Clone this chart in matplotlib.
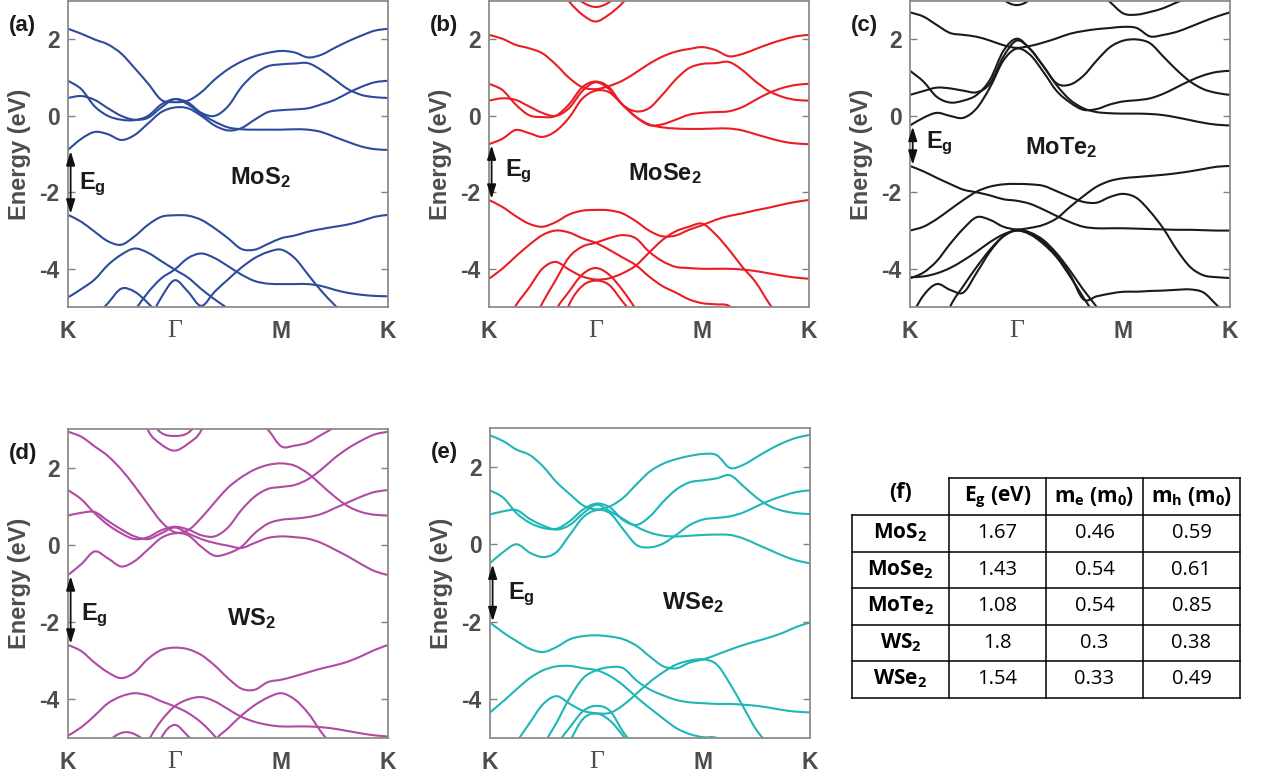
import numpy as np
import matplotlib.pyplot as plt
from matplotlib.path import Path
from matplotlib.patches import PathPatch

plt.rcParams['font.family'] = 'Liberation Sans'
plt.rcParams['axes.unicode_minus'] = False
plt.rcParams['mathtext.fontset'] = 'custom'
plt.rcParams['mathtext.rm'] = 'Liberation Sans'
plt.rcParams['mathtext.it'] = 'Liberation Sans:italic'
plt.rcParams['mathtext.bf'] = 'Liberation Sans:bold'
plt.rcParams['mathtext.sf'] = 'Open Sans:bold'

# k-path K -> Gamma -> M -> K, 8 samples per segment (energies in eV)
k_path = np.arange(25) * 0.125
k_ticks = [0, 1, 2, 3]
k_labels = ['K', 'Γ', 'M', 'K']

mos2_cb = [
    [2.28, 2.15, 2.00, 1.87, 1.63, 1.25, 0.85, 0.42, 0.36, 0.40, 0.62, 0.95, 1.22, 1.42, 1.56, 1.65, 1.70, 1.66, 1.53, 1.60, 1.78, 1.95, 2.10, 2.23, 2.28],
    [0.92, 0.70, 0.25, 0.00, -0.10, -0.11, 0.00, 0.30, 0.44, 0.35, 0.08, 0.00, 0.25, 0.75, 1.10, 1.30, 1.35, 1.37, 1.38, 1.20, 0.95, 0.70, 0.55, 0.49, 0.47],
    [0.47, 0.52, 0.42, 0.20, 0.00, -0.10, -0.05, 0.22, 0.44, 0.30, 0.05, -0.15, -0.30, -0.35, -0.36, -0.36, -0.36, -0.35, -0.36, -0.42, -0.55, -0.68, -0.80, -0.87, -0.89],
    [-0.89, -0.60, -0.42, -0.48, -0.63, -0.50, -0.20, 0.10, 0.22, 0.20, 0.00, -0.25, -0.38, -0.32, -0.10, 0.10, 0.15, 0.17, 0.20, 0.30, 0.42, 0.60, 0.76, 0.88, 0.92],
]
mos2_vb = [
    [-2.59, -2.77, -3.03, -3.28, -3.37, -3.15, -2.85, -2.64, -2.60, -2.61, -2.72, -2.94, -3.20, -3.48, -3.50, -3.35, -3.20, -3.13, -3.03, -2.96, -2.90, -2.84, -2.75, -2.64, -2.59],
    [-4.75, -4.53, -4.28, -3.90, -3.63, -3.47, -3.58, -3.80, -4.02, -4.23, -4.53, -4.80, -5.05, -5.40, -5.70, -6.00, -6.00, -6.00, -6.00, -6.00, -6.00, -6.00, -6.00, -6.00, -6.00],
    [-6.00, -6.00, -6.00, -6.00, -5.60, -5.10, -4.62, -4.25, -4.02, -3.72, -3.60, -3.72, -3.93, -4.15, -4.32, -4.39, -4.40, -4.40, -4.40, -4.45, -4.55, -4.63, -4.68, -4.71, -4.72],
    [-6.00, -6.00, -6.00, -6.00, -6.00, -6.00, -5.40, -4.75, -4.30, -4.60, -4.97, -4.60, -4.28, -3.97, -3.72, -3.56, -3.50, -3.72, -4.15, -4.58, -4.95, -5.30, -5.60, -6.00, -6.00],
    [-6.00, -6.00, -5.30, -4.90, -4.52, -4.60, -4.90, -5.30, -6.00, -6.00, -6.00, -6.00, -6.00, -6.00, -6.00, -6.00, -6.00, -6.00, -6.00, -6.00, -6.00, -6.00, -6.00, -6.00, -6.00],
]

mose2_cb = [
    [4.00, 4.00, 4.00, 4.00, 4.00, 3.50, 3.00, 2.65, 2.47, 2.65, 2.95, 3.40, 4.00, 4.00, 4.00, 4.00, 4.00, 4.00, 4.00, 4.00, 4.00, 4.00, 4.00, 4.00, 4.00],
    [4.00, 4.00, 4.00, 4.00, 4.00, 4.00, 3.30, 2.98, 2.85, 2.97, 3.30, 4.00, 4.00, 4.00, 4.00, 4.00, 4.00, 4.00, 4.00, 4.00, 4.00, 4.00, 4.00, 4.00, 4.00],
    [2.12, 2.02, 1.86, 1.77, 1.64, 1.35, 1.00, 0.75, 0.70, 0.78, 0.92, 1.13, 1.36, 1.55, 1.68, 1.75, 1.80, 1.72, 1.56, 1.62, 1.75, 1.88, 1.99, 2.08, 2.12],
    [0.84, 0.68, 0.30, 0.02, -0.03, 0.00, 0.30, 0.75, 0.90, 0.75, 0.30, 0.12, 0.20, 0.55, 0.95, 1.25, 1.36, 1.38, 1.41, 1.20, 0.90, 0.65, 0.50, 0.42, 0.40],
    [0.40, 0.46, 0.42, 0.25, 0.08, 0.00, 0.20, 0.65, 0.88, 0.70, 0.30, -0.02, -0.22, -0.30, -0.33, -0.34, -0.34, -0.33, -0.33, -0.38, -0.48, -0.58, -0.67, -0.72, -0.74],
    [-0.74, -0.60, -0.37, -0.45, -0.55, -0.40, -0.05, 0.45, 0.66, 0.62, 0.30, -0.02, -0.24, -0.22, -0.10, 0.03, 0.08, 0.10, 0.12, 0.23, 0.42, 0.60, 0.73, 0.81, 0.84],
]
mose2_vb = [
    [-2.20, -2.38, -2.62, -2.82, -2.90, -2.78, -2.58, -2.48, -2.46, -2.47, -2.55, -2.75, -3.00, -3.15, -3.13, -2.98, -2.86, -2.72, -2.62, -2.55, -2.47, -2.40, -2.32, -2.25, -2.20],
    [-4.26, -4.00, -3.68, -3.38, -3.12, -3.00, -3.05, -3.20, -3.32, -3.50, -3.70, -3.90, -4.20, -4.45, -4.62, -4.80, -4.90, -4.93, -4.97, -5.30, -5.60, -6.00, -6.00, -6.00, -6.00],
    [-6.00, -6.00, -6.00, -5.60, -4.90, -4.30, -3.70, -3.42, -3.32, -3.20, -3.12, -3.20, -3.55, -3.80, -3.95, -3.98, -4.00, -4.00, -4.00, -4.02, -4.06, -4.12, -4.18, -4.23, -4.26],
    [-6.00, -5.60, -4.97, -4.50, -4.00, -3.82, -4.02, -4.20, -4.28, -4.25, -4.12, -3.92, -3.58, -3.25, -3.02, -2.90, -2.82, -3.10, -3.50, -3.95, -4.35, -4.90, -5.40, -6.00, -6.00],
    [-6.00, -6.00, -6.00, -6.00, -6.00, -5.10, -4.60, -4.15, -3.98, -4.15, -4.55, -5.05, -5.60, -6.00, -6.00, -6.00, -6.00, -6.00, -6.00, -6.00, -6.00, -6.00, -6.00, -6.00, -6.00],
    [-6.00, -6.00, -6.00, -6.00, -6.00, -6.00, -4.95, -4.45, -4.31, -4.42, -4.85, -5.30, -6.00, -6.00, -6.00, -6.00, -6.00, -6.00, -6.00, -6.00, -6.00, -6.00, -6.00, -6.00, -6.00],
]

mote2_cb = [
    [4.00, 4.00, 4.00, 4.00, 4.00, 4.00, 3.50, 3.05, 2.90, 3.05, 3.50, 4.00, 4.00, 4.00, 4.00, 4.00, 4.00, 4.00, 4.00, 4.00, 4.00, 4.00, 4.00, 4.00, 4.00],
    [4.00, 4.00, 4.00, 4.00, 4.00, 4.00, 4.00, 4.00, 4.00, 4.00, 4.00, 4.00, 4.00, 4.00, 3.30, 2.98, 2.68, 2.65, 2.72, 2.82, 2.97, 3.10, 3.30, 4.00, 4.00],
    [2.71, 2.60, 2.38, 2.17, 2.12, 2.07, 1.97, 1.85, 1.78, 1.83, 1.92, 2.03, 2.15, 2.22, 2.27, 2.30, 2.33, 2.30, 2.08, 2.12, 2.20, 2.33, 2.47, 2.60, 2.71],
    [1.18, 0.90, 0.50, 0.35, 0.40, 0.55, 0.95, 1.70, 2.02, 1.75, 1.30, 0.85, 0.82, 1.05, 1.45, 1.80, 1.97, 2.00, 1.90, 1.55, 1.20, 0.90, 0.70, 0.60, 0.55],
    [0.55, 0.65, 0.74, 0.72, 0.66, 0.62, 0.85, 1.55, 1.97, 1.75, 1.30, 0.80, 0.42, 0.20, 0.10, 0.07, 0.06, 0.06, 0.05, 0.02, -0.04, -0.11, -0.18, -0.23, -0.25],
    [-0.25, -0.05, 0.08, 0.00, -0.05, 0.20, 0.75, 1.45, 1.76, 1.60, 1.15, 0.65, 0.35, 0.16, 0.18, 0.30, 0.38, 0.41, 0.46, 0.58, 0.75, 0.92, 1.06, 1.15, 1.18],
]
mote2_vb = [
    [-1.31, -1.45, -1.62, -1.78, -1.93, -2.00, -2.08, -2.18, -2.22, -2.30, -2.45, -2.62, -2.78, -2.90, -2.94, -2.94, -2.94, -2.95, -2.96, -2.97, -2.98, -2.98, -2.99, -3.00, -3.00],
    [-3.00, -2.90, -2.70, -2.45, -2.20, -1.98, -1.85, -1.79, -1.78, -1.79, -1.83, -1.97, -2.12, -2.25, -2.27, -2.12, -2.04, -2.15, -2.50, -2.95, -3.50, -3.95, -4.17, -4.22, -4.24],
    [-4.22, -4.20, -4.12, -3.98, -3.78, -3.55, -3.30, -3.10, -3.00, -3.08, -3.30, -3.65, -4.15, -4.80, -4.72, -4.65, -4.60, -4.60, -4.58, -4.57, -4.55, -4.54, -4.62, -4.95, -5.30],
    [-5.30, -4.70, -4.40, -4.55, -4.62, -4.10, -3.55, -3.15, -2.98, -3.05, -3.25, -3.60, -4.05, -4.55, -5.00, -5.50, -6.00, -6.00, -6.00, -6.00, -6.00, -6.00, -6.00, -6.00, -6.00],
    [-4.25, -4.10, -3.80, -3.35, -2.95, -2.65, -2.72, -2.90, -2.97, -2.93, -2.85, -2.68, -2.38, -2.10, -1.85, -1.70, -1.63, -1.60, -1.57, -1.54, -1.50, -1.45, -1.39, -1.33, -1.31],
    [-6.00, -6.00, -6.00, -5.00, -4.45, -3.95, -3.50, -3.15, -3.00, -3.10, -3.35, -3.70, -4.20, -4.75, -5.30, -6.00, -6.00, -6.00, -6.00, -6.00, -6.00, -6.00, -6.00, -6.00, -6.00],
]

ws2_cb = [
    [4.00, 4.00, 4.00, 4.00, 4.00, 4.00, 2.97, 2.60, 2.44, 2.62, 2.97, 4.00, 4.00, 4.00, 4.00, 4.00, 4.00, 4.00, 4.00, 4.00, 4.00, 4.00, 4.00, 4.00, 4.00],
    [4.00, 4.00, 4.00, 4.00, 4.00, 4.00, 3.30, 2.90, 2.82, 2.90, 3.30, 4.00, 4.00, 4.00, 4.00, 4.00, 4.00, 4.00, 4.00, 4.00, 4.00, 4.00, 4.00, 4.00, 4.00],
    [4.00, 4.00, 4.00, 4.00, 4.00, 4.00, 4.00, 4.00, 4.00, 4.00, 4.00, 4.00, 4.00, 4.00, 3.30, 2.98, 2.55, 2.57, 2.65, 2.85, 3.05, 3.30, 4.00, 4.00, 4.00],
    [2.93, 2.80, 2.55, 2.30, 1.95, 1.52, 1.05, 0.60, 0.33, 0.38, 0.70, 1.10, 1.48, 1.75, 1.95, 2.07, 2.11, 2.05, 1.85, 1.55, 1.25, 1.00, 0.85, 0.78, 0.76],
    [1.42, 1.18, 0.82, 0.52, 0.30, 0.15, 0.20, 0.38, 0.47, 0.40, 0.25, 0.22, 0.45, 0.90, 1.25, 1.45, 1.50, 1.55, 1.70, 1.95, 2.25, 2.50, 2.70, 2.86, 2.93],
    [0.76, 0.83, 0.85, 0.62, 0.40, 0.22, 0.15, 0.30, 0.45, 0.30, 0.15, 0.05, -0.02, -0.08, 0.05, 0.18, 0.22, 0.20, 0.16, 0.05, -0.12, -0.30, -0.50, -0.68, -0.78],
    [-0.78, -0.50, -0.17, -0.35, -0.56, -0.42, -0.12, 0.18, 0.30, 0.25, -0.05, -0.28, -0.22, -0.05, 0.30, 0.55, 0.65, 0.68, 0.72, 0.80, 0.95, 1.10, 1.25, 1.37, 1.42],
]
ws2_vb = [
    [-2.59, -2.75, -3.05, -3.30, -3.45, -3.30, -2.95, -2.72, -2.66, -2.70, -2.85, -3.12, -3.45, -3.72, -3.75, -3.55, -3.49, -3.40, -3.30, -3.20, -3.12, -3.02, -2.88, -2.72, -2.59],
    [-4.94, -4.72, -4.42, -4.10, -3.92, -3.84, -3.90, -4.05, -4.18, -4.35, -4.60, -4.95, -5.40, -6.00, -6.00, -6.00, -6.00, -6.00, -6.00, -6.00, -6.00, -6.00, -6.00, -6.00, -6.00],
    [-6.00, -6.00, -6.00, -6.00, -6.00, -6.00, -5.10, -4.55, -4.18, -4.00, -3.94, -4.05, -4.25, -4.45, -4.58, -4.66, -4.70, -4.70, -4.70, -4.72, -4.76, -4.82, -4.88, -4.93, -4.96],
    [-6.00, -6.00, -6.00, -6.00, -6.00, -6.00, -6.00, -6.00, -6.00, -6.00, -6.00, -5.10, -4.75, -4.42, -4.15, -3.95, -3.84, -4.00, -4.35, -4.85, -5.30, -6.00, -6.00, -6.00, -6.00],
    [-6.00, -6.00, -6.00, -5.15, -4.87, -4.90, -5.20, -6.00, -6.00, -6.00, -6.00, -6.00, -6.00, -6.00, -6.00, -6.00, -6.00, -6.00, -6.00, -6.00, -6.00, -6.00, -6.00, -6.00, -6.00],
    [-6.00, -6.00, -6.00, -6.00, -6.00, -6.00, -6.00, -5.00, -4.66, -4.95, -5.30, -6.00, -6.00, -6.00, -6.00, -6.00, -6.00, -6.00, -6.00, -6.00, -6.00, -6.00, -6.00, -6.00, -6.00],
]

wse2_cb = [
    [2.81, 2.66, 2.44, 2.30, 2.00, 1.60, 1.29, 1.00, 0.90, 0.98, 1.20, 1.55, 1.88, 2.08, 2.20, 2.28, 2.33, 2.30, 1.97, 2.05, 2.25, 2.45, 2.62, 2.75, 2.82],
    [1.39, 1.20, 0.80, 0.55, 0.42, 0.40, 0.60, 0.90, 1.05, 0.95, 0.62, 0.50, 0.72, 1.10, 1.42, 1.60, 1.65, 1.70, 1.78, 1.50, 1.20, 0.98, 0.86, 0.80, 0.78],
    [0.77, 0.85, 0.88, 0.65, 0.48, 0.38, 0.50, 0.80, 1.02, 0.85, 0.65, 0.45, 0.30, 0.22, 0.20, 0.22, 0.24, 0.25, 0.24, 0.15, 0.00, -0.15, -0.30, -0.42, -0.49],
    [-0.49, -0.20, 0.00, -0.22, -0.33, -0.20, 0.25, 0.70, 0.88, 0.80, 0.38, -0.02, -0.08, 0.02, 0.25, 0.50, 0.64, 0.68, 0.72, 0.82, 0.98, 1.13, 1.25, 1.35, 1.39],
]
wse2_vb = [
    [-2.02, -2.28, -2.50, -2.70, -2.78, -2.65, -2.45, -2.37, -2.35, -2.38, -2.45, -2.62, -2.90, -3.15, -3.20, -3.05, -2.97, -2.85, -2.72, -2.60, -2.50, -2.40, -2.28, -2.13, -2.02],
    [-4.34, -4.05, -3.74, -3.45, -3.25, -3.15, -3.14, -3.20, -3.25, -3.40, -3.64, -3.95, -4.23, -4.50, -4.75, -4.90, -4.98, -5.00, -5.30, -5.60, -6.00, -6.00, -6.00, -6.00, -6.00],
    [-6.00, -6.00, -6.00, -6.00, -5.20, -4.60, -3.95, -3.45, -3.25, -3.17, -3.20, -3.52, -3.75, -3.90, -4.02, -4.08, -4.10, -4.12, -4.12, -4.14, -4.17, -4.22, -4.28, -4.32, -4.34],
    [-6.00, -5.60, -5.10, -4.60, -4.12, -3.92, -4.12, -4.30, -4.36, -4.35, -4.15, -3.85, -3.55, -3.30, -3.10, -3.00, -2.97, -3.10, -3.60, -4.20, -4.80, -5.20, -5.60, -6.00, -6.00],
    [-6.00, -6.00, -6.00, -6.00, -6.00, -5.20, -4.72, -4.30, -4.17, -4.30, -4.85, -5.30, -6.00, -6.00, -6.00, -6.00, -6.00, -6.00, -6.00, -6.00, -6.00, -6.00, -6.00, -6.00, -6.00],
    [-6.00, -6.00, -6.00, -6.00, -6.00, -6.00, -5.10, -4.50, -4.37, -4.55, -4.95, -5.40, -6.00, -6.00, -6.00, -6.00, -6.00, -6.00, -6.00, -6.00, -6.00, -6.00, -6.00, -6.00, -6.00],
]

# table (f)
materials = [r'MoS$_\mathsf{2}$', r'MoSe$_\mathsf{2}$', r'MoTe$_\mathsf{2}$', r'WS$_\mathsf{2}$', r'WSe$_\mathsf{2}$']
eg_vals = ['1.67', '1.43', '1.08', '1.8', '1.54']
me_vals = ['0.46', '0.54', '0.54', '0.3', '0.33']
mh_vals = ['0.59', '0.61', '0.85', '0.38', '0.49']
headers = [r'E$_\mathsf{g}$ (eV)', r'm$_\mathsf{e}$ (m$_\mathsf{0}$)', r'm$_\mathsf{h}$ (m$_\mathsf{0}$)']

gray = '#4d4d4d'
fig = plt.figure(figsize=(12.68, 7.8), dpi=100)


def band_path(x, y):
    # smooth (Catmull-Rom style) bezier curve through the sampled band energies
    n = len(x)
    verts = [(x[0], y[0])]
    codes = [Path.MOVETO]
    for i in range(n - 1):
        xp, yp = (x[i - 1], y[i - 1]) if i > 0 else (x[i], y[i])
        xn, yn = (x[i + 2], y[i + 2]) if i + 2 < n else (x[i + 1], y[i + 1])
        verts.append((x[i] + (x[i + 1] - xp) / 6, y[i] + (y[i + 1] - yp) / 6))
        verts.append((x[i + 1] - (xn - x[i]) / 6, y[i + 1] - (yn - y[i]) / 6))
        verts.append((x[i + 1], y[i + 1]))
        codes += [Path.CURVE4] * 3
    return Path(verts, codes)


def panel(rect, cb, vb, color, name, letter, name_xy, eg_xy):
    ax = fig.add_axes(rect)
    for b in cb + vb:
        ax.add_patch(PathPatch(band_path(k_path, b), fill=False, edgecolor=color,
                               lw=1.5, joinstyle='round'))
    ax.set_xlim(0, 3)
    ax.set_ylim(-5, 3)
    ax.set_yticks([-4, -2, 0, 2])
    ax.set_xticks(k_ticks)
    ax.set_xticklabels(k_labels)
    ax.tick_params(axis='y', direction='in', length=5, width=1, color='#808080',
                   right=True, labelsize=16.5, labelcolor=gray, pad=6)
    ax.tick_params(axis='x', length=0, labelsize=16.5, labelcolor=gray, pad=9)
    for lbl in ax.get_yticklabels() + ax.get_xticklabels():
        lbl.set_fontweight('bold')
    g = ax.get_xticklabels()[1]
    g.set_fontfamily('Liberation Serif')
    g.set_fontweight('normal')
    g.set_fontsize(18.5)
    for s in ax.spines.values():
        s.set_color('#8c8c8c')
        s.set_linewidth(1.3)
    ax.set_ylabel('Energy (eV)', fontsize=17, fontweight='bold', color=gray)
    ax.yaxis.set_label_coords(-0.115, 0.5)
    cbm = min(b[0] for b in cb)
    vbm = max(b[0] for b in vb)
    ax.annotate('', xy=(0.025, vbm + 0.03), xytext=(0.025, cbm - 0.03),
                arrowprops=dict(arrowstyle='<|-|>,head_length=0.7,head_width=0.22',
                                color='#111111', lw=1.3, mutation_scale=12,
                                shrinkA=0, shrinkB=0))
    ax.text(eg_xy[0], eg_xy[1], r'E$_\mathbf{g}$', fontsize=17, fontweight='bold',
            ha='left', va='center', color='#1a1a1a')
    ax.text(name_xy[0], name_xy[1], name, fontsize=17, fontweight='bold',
            ha='center', va='center', color='#1a1a1a')
    ax.text(-0.185, 0.92, letter, transform=ax.transAxes, fontsize=16,
            fontweight='bold', ha='left', va='center', color='#1a1a1a')
    return ax


top_b, top_h = 0.6064, 0.392
bot_b, bot_h = 0.0538, 0.3962
panel([0.0536, top_b, 0.2524, top_h], mos2_cb, mos2_vb, '#2d4b9c',
      r'MoS$_\mathbf{2}$', '(a)', (1.8, -1.62), (0.1, -1.8))
panel([0.3856, top_b, 0.2524, top_h], mose2_cb, mose2_vb, '#ec1c24',
      r'MoSe$_\mathbf{2}$', '(b)', (1.65, -1.5), (0.15, -1.45))
panel([0.7177, top_b, 0.2524, top_h], mote2_cb, mote2_vb, '#1a1a1a',
      r'MoTe$_\mathbf{2}$', '(c)', (1.42, -0.82), (0.15, -0.72))
panel([0.0536, bot_b, 0.2524, bot_h], ws2_cb, ws2_vb, '#b04aa2',
      r'WS$_\mathbf{2}$', '(d)', (1.72, -1.9), (0.12, -1.82))
panel([0.3864, bot_b, 0.2524, bot_h + 0.0013], wse2_cb, wse2_vb, '#1fb6b6',
      r'WSe$_\mathbf{2}$', '(e)', (1.9, -1.5), (0.17, -1.3))

# table drawn in pixel coordinates on an overlay
tab = fig.add_axes([0, 0, 1, 1])
tab.set_xlim(0, 1268)
tab.set_ylim(780, 0)
tab.axis('off')
col_x = [852, 949, 1046, 1143, 1240]
row_y = [478, 515, 551.5, 588, 624.5, 661, 697.5]
lw_t = 1.1
tab.plot([col_x[1], col_x[-1]], [row_y[0], row_y[0]], color='k', lw=lw_t)
for y in row_y[1:]:
    tab.plot([col_x[0], col_x[-1]], [y, y], color='k', lw=lw_t)
tab.plot([col_x[0], col_x[0]], [row_y[1], row_y[-1]], color='k', lw=lw_t)
for x in col_x[1:]:
    tab.plot([x, x], [row_y[0], row_y[-1]], color='k', lw=lw_t)

tfont = 'Open Sans'
cx = [(col_x[i] + col_x[i + 1]) / 2 for i in range(4)]
tab.text(cx[0], 492, '(f)', fontsize=15.5, fontweight='bold', family=tfont,
         ha='center', va='center')
for i, h in enumerate(headers):
    tab.text(cx[i + 1], 497, h, fontsize=15, fontweight='bold', family=tfont,
             ha='center', va='center')
for r in range(5):
    yc = (row_y[r + 1] + row_y[r + 2]) / 2
    tab.text(cx[0], yc, materials[r], fontsize=15, fontweight='bold',
             family=tfont, ha='center', va='center')
    for j, vals in enumerate([eg_vals, me_vals, mh_vals]):
        tab.text(cx[j + 1], yc, vals[r], fontsize=14.5, family=tfont,
                 ha='center', va='center')

fig.savefig('out.png', dpi=100)
